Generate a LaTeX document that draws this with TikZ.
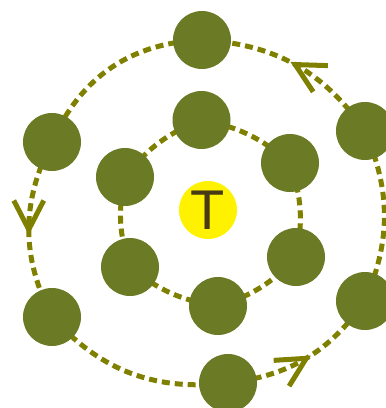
\documentclass[tikz,border=0pt]{standalone}
\usepackage{fontspec}
\setmainfont{Liberation Sans}
\usetikzlibrary{decorations.markings,backgrounds}
\definecolor{ballgreen}{RGB}{107,122,37}
\definecolor{ringolive}{RGB}{128,128,0}
\definecolor{tbrown}{RGB}{72,58,20}

\begin{document}
\begin{tikzpicture}[
    x=1pt, y=1pt,
    ball/.style={circle, fill=ballgreen, minimum size=58pt, inner sep=0pt},
    hub/.style={circle, fill=yellow, minimum size=58pt, inner sep=0pt, text=tbrown, font=\fontsize{56}{56}\selectfont},
    ring/.style={draw=ringolive, line width=5pt, dash pattern=on 8pt off 5pt},
    flow/.style={ring, postaction={decorate}, decoration={markings, mark=at position 0.5 with {\draw[draw=ringolive, solid, line width=5pt] (-29pt,15pt) -- (0pt,0pt) -- (-29pt,-15pt);}}}
]
    \useasboundingbox (0,0) rectangle (386,408);

    \node[hub] (hub) at (208,198) {T};

    \node[ball] (it) at (201.5,288) {};
    \node[ball] (iur) at (290,245) {};
    \node[ball] (ilr) at (296,151) {};
    \node[ball] (ib) at (218,102) {};
    \node[ball] (ill) at (130,141) {};
    \node[ball] (iul) at (125,231) {};

    \node[ball] (ot) at (202,368) {};
    \node[ball] (our) at (365,277) {};
    \node[ball] (olr) at (365,107) {};
    \node[ball] (ob) at (228,25) {};
    \node[ball] (oll) at (52,91) {};
    \node[ball] (oul) at (52,266) {};

    \begin{scope}[on background layer]
    \draw[ring] (it.center) to[bend right=15] (iul.center);
    \draw[ring] (iul.center) to[bend right=15] (ill.center);
    \draw[ring] (ill.center) to[bend right=15] (ib.center);
    \draw[ring] (ib.center) to[bend right=15] (ilr.center);
    \draw[ring] (ilr.center) to[bend right=15] (iur.center);
    \draw[ring] (iur.center) to[bend right=15] (it.center);

    \draw[flow] (our.center) to[bend right=26] (ot.center);
    \draw[ring] (ot.center) to[bend right=32] (oul.center);
    \draw[flow] (oul.center) to[bend right=27] (oll.center);
    \draw[ring] (oll.center) to[bend right=27] (ob.center);
    \draw[flow] (ob.center) to[bend right=24] (olr.center);
    \draw[ring] (olr.center) to[bend right=23] (our.center);
    \end{scope}
\end{tikzpicture}
\end{document}
